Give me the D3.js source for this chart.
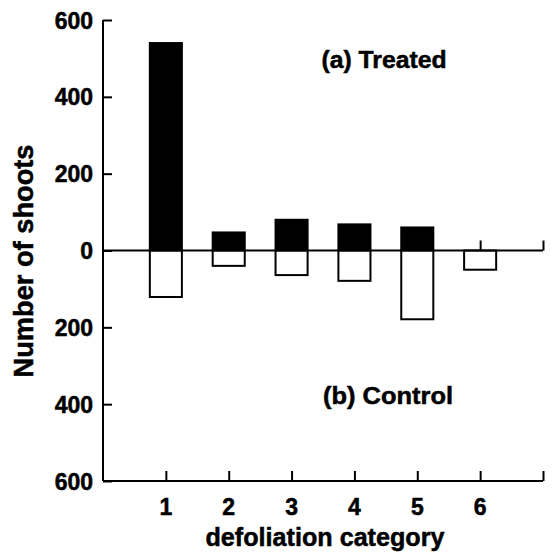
<!DOCTYPE html>
<html>
<head>
<meta charset="utf-8">
<script src="https://cdn.jsdelivr.net/npm/d3@7"></script>
<style>
  html, body { margin: 0; padding: 0; background: #fff; }
  svg { display: block; }
  text { font-family: "Liberation Sans", Arial, Helvetica, sans-serif; font-weight: bold; fill: #000; stroke: #000; stroke-width: 0.5px; }
</style>
</head>
<body>
<svg id="chart" width="552" height="553"></svg>
<script>
const categories = [1, 2, 3, 4, 5, 6];
const treated = [540, 47, 80, 68, 60, 0];
const control = [121, 40, 64, 79, 179, 50];
const yTickValues = [-600, -400, -200, 0, 200, 400, 600];
const yTickLabels = ["600", "400", "200", "0", "200", "400", "600"];
const xTickLabels = ["1", "2", "3", "4", "5", "6"];

const svg = d3.select("#chart");
const x = d3.scaleLinear().domain([0, 7]).range([103, 543]);
const y = d3.scaleLinear().domain([-600, 600]).range([481, 20]);
const barW = (x(1) - x(0)) * 0.51;

// Bars
const g = svg.append("g");
g.selectAll("rect.treated").data(categories).enter().append("rect")
  .attr("class", "treated")
  .attr("x", (d) => x(d) - barW / 2)
  .attr("y", (d, i) => y(treated[i]))
  .attr("width", barW)
  .attr("height", (d, i) => y(0) - y(treated[i]))
  .attr("fill", "#000")
  .attr("stroke", (d, i) => treated[i] > 0 ? "#000" : "none")
  .attr("stroke-width", 2);

g.selectAll("rect.control").data(categories).enter().append("rect")
  .attr("class", "control")
  .attr("x", (d) => x(d) - barW / 2)
  .attr("y", y(0))
  .attr("width", barW)
  .attr("height", (d, i) => y(-control[i]) - y(0))
  .attr("fill", "#fff")
  .attr("stroke", "#000")
  .attr("stroke-width", 2);

// Y axis (ticks pointing inward)
const yAxis = d3.axisRight(y).tickValues(yTickValues).tickSize(9).tickFormat("");
const ya = svg.append("g").attr("transform", `translate(${x(0)},0)`).call(yAxis);
ya.select(".domain").attr("d", `M0,${y(600)}V${y(-600)}`).attr("stroke-width", 2);
ya.selectAll(".tick line").attr("stroke-width", 2);

ya.selectAll(".ylab").data(yTickValues).enter().append("text")
  .attr("class", "ylab")
  .attr("x", -10)
  .attr("y", (d) => y(d))
  .attr("dy", "0.37em")
  .attr("text-anchor", "end")
  .attr("font-size", 23)
  .text((d, i) => yTickLabels[i]);

// Bottom axis (ticks pointing up)
const xTickVals = categories.concat([7]);
const xAxis = d3.axisTop(x).tickValues(xTickVals).tickSize(10).tickFormat("");
const xa = svg.append("g").attr("transform", `translate(0,${y(-600)})`).call(xAxis);
xa.select(".domain").attr("d", `M${x(0)},0H${x(7)}`).attr("stroke-width", 2);
xa.selectAll(".tick line").attr("stroke-width", 2);

svg.selectAll(".xlab").data(categories).enter().append("text")
  .attr("class", "xlab")
  .attr("x", (d) => x(d))
  .attr("y", 515)
  .attr("text-anchor", "middle")
  .attr("font-size", 23)
  .text((d, i) => xTickLabels[i]);

// Zero line with upward ticks
const za = svg.append("g").attr("transform", `translate(0,${y(0)})`).call(xAxis);
za.select(".domain").attr("d", `M${x(0)},0H${x(7)}`).attr("stroke-width", 2);
za.selectAll(".tick line").attr("stroke-width", 2);

// Titles
svg.append("text")
  .attr("x", 325).attr("y", 546)
  .attr("text-anchor", "middle").attr("font-size", 25)
  .attr("textLength", 239).attr("lengthAdjust", "spacingAndGlyphs")
  .text("defoliation category");

svg.append("text")
  .attr("transform", "translate(33,261) rotate(-90)")
  .attr("text-anchor", "middle").attr("font-size", 27)
  .attr("textLength", 233).attr("lengthAdjust", "spacingAndGlyphs")
  .text("Number of shoots");

svg.append("text")
  .attr("x", 384).attr("y", 68)
  .attr("text-anchor", "middle").attr("font-size", 24)
  .attr("textLength", 125).attr("lengthAdjust", "spacingAndGlyphs")
  .text("(a) Treated");

svg.append("text")
  .attr("x", 388).attr("y", 404)
  .attr("text-anchor", "middle").attr("font-size", 24)
  .attr("textLength", 130).attr("lengthAdjust", "spacingAndGlyphs")
  .text("(b) Control");
</script>
</body>
</html>
